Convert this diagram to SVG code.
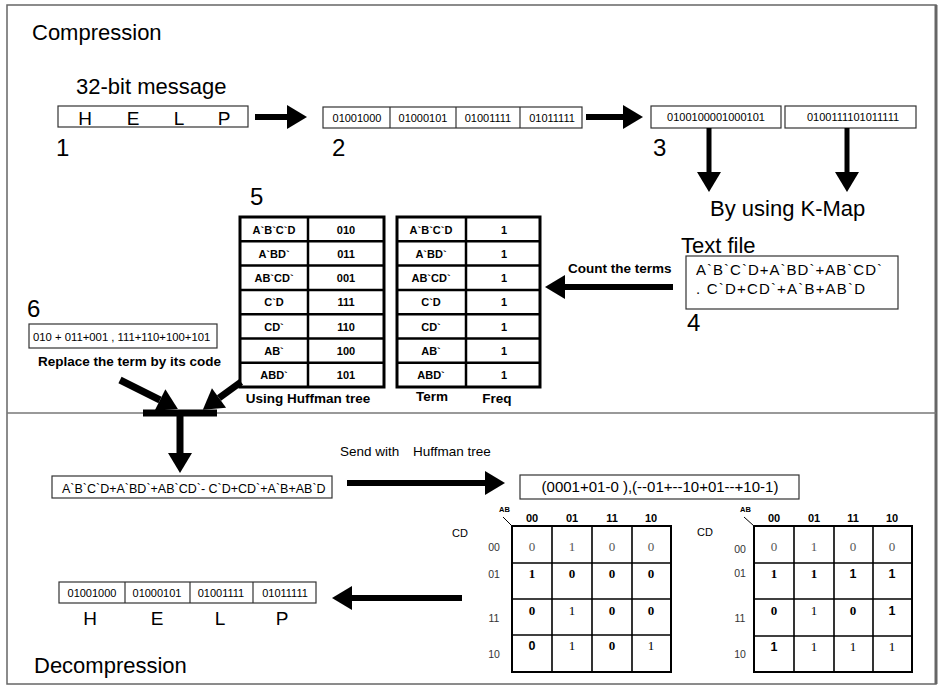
<svg xmlns="http://www.w3.org/2000/svg" width="939" height="688" viewBox="0 0 939 688">
<style>
text{font-family:"Liberation Sans",Arial,sans-serif;fill:#000}
.big{font-size:22px}
.num{font-size:24px}
.let{font-size:19px}
.bin{font-size:11px}
.bl{font-size:13.5px;font-weight:bold}
.tb{font-size:11px;font-weight:bold}
.c{text-anchor:middle}
.box{fill:#fff;stroke:#333;stroke-width:1.2}
.tbl{fill:#fff;stroke:#000;stroke-width:3}
.tl{stroke:#000;stroke-width:2.5}
.km{fill:none;stroke:#000;stroke-width:2}
.kl{stroke:#000;stroke-width:1.6}
.kh{font-size:11px;font-weight:bold}
.kr{font-size:10.5px;fill:#333}
.sv{font-family:"Liberation Serif","Times New Roman",serif;font-size:13px;font-weight:bold;text-anchor:middle}
.sg{font-family:"Liberation Serif","Times New Roman",serif;font-size:13px;fill:#555;text-anchor:middle}
.sn{font-family:"Liberation Serif","Times New Roman",serif;font-size:13px;text-anchor:middle}
.ss{font-size:12.5px;font-weight:bold;text-anchor:middle}
.arr{stroke:#000;fill:none}
</style>
<defs>
<marker id="ah" markerUnits="userSpaceOnUse" markerWidth="20" markerHeight="24" refX="0" refY="12" orient="auto" overflow="visible">
<path d="M0,0 L20,12 L0,24 z" fill="#000"/>
</marker>
</defs>

<!-- frame -->
<g id="frame">
<rect x="7" y="5" width="929" height="679" fill="#fff" stroke="#666" stroke-width="1.5"/>
<line x1="936" y1="5" x2="936" y2="684" stroke="#666" stroke-width="3"/>
<line x1="7" y1="413" x2="936" y2="413" stroke="#777" stroke-width="1.5"/>
<text class="big" x="32" y="40">Compression</text>
<text class="big" x="34" y="673">Decompression</text>
</g>

<g id="node1">
<text class="big" x="76" y="94">32-bit message</text>
<rect class="box" x="58" y="106" width="190" height="21"/>
<text class="let c" x="85" y="125">H</text>
<text class="let c" x="133" y="125">E</text>
<text class="let c" x="179" y="125">L</text>
<text class="let c" x="224" y="125">P</text>
<text class="num" x="56" y="156">1</text>
</g>

<g id="node2">
<rect class="box" x="323" y="107" width="259" height="21"/>
<line x1="390" y1="107" x2="390" y2="128" stroke="#333" stroke-width="1.2"/>
<line x1="456" y1="107" x2="456" y2="128" stroke="#333" stroke-width="1.2"/>
<line x1="520" y1="107" x2="520" y2="128" stroke="#333" stroke-width="1.2"/>
<text class="bin c" x="357" y="122">01001000</text>
<text class="bin c" x="423" y="122">01000101</text>
<text class="bin c" x="488" y="122">01001111</text>
<text class="bin c" x="552" y="122">01011111</text>
<text class="num" x="332" y="156">2</text>
</g>

<g id="node3">
<rect class="box" x="651" y="106" width="130" height="22"/>
<text class="bin c" x="716" y="121">0100100001000101</text>
<rect class="box" x="785" y="106" width="131" height="22"/>
<text class="bin c" x="853" y="121">0100111101011111</text>
<text class="num" x="653" y="156">3</text>
<text class="big" x="710" y="216">By using K-Map</text>
</g>

<g id="node4">
<text class="big" x="681" y="253">Text file</text>
<rect class="box" x="686" y="256" width="212" height="53"/>
<text x="696" y="275" font-size="15" textLength="186" lengthAdjust="spacing">A`B`C`D+A`BD`+AB`CD`</text>
<text x="696" y="294" font-size="15" textLength="169" lengthAdjust="spacing">. C`D+CD`+A`B+AB`D</text>
<text class="num" x="687" y="331">4</text>
<text class="bl" x="568" y="273">Count the terms</text>
</g>

<g id="node5">
<text class="num" x="250" y="205">5</text>
<rect class="tbl" x="240" y="217" width="144" height="170"/>
<line class="tl" x1="308" y1="217" x2="308" y2="387"/>
<line class="tl" x1="240" y1="241.3" x2="384" y2="241.3"/>
<line class="tl" x1="240" y1="265.6" x2="384" y2="265.6"/>
<line class="tl" x1="240" y1="289.9" x2="384" y2="289.9"/>
<line class="tl" x1="240" y1="314.2" x2="384" y2="314.2"/>
<line class="tl" x1="240" y1="338.5" x2="384" y2="338.5"/>
<line class="tl" x1="240" y1="362.8" x2="384" y2="362.8"/>
<text class="tb c" x="274" y="233.5">A`B`C`D</text><text class="tb c" x="346" y="233.5">010</text>
<text class="tb c" x="274" y="257.8">A`BD`</text><text class="tb c" x="346" y="257.8">011</text>
<text class="tb c" x="274" y="282.1">AB`CD`</text><text class="tb c" x="346" y="282.1">001</text>
<text class="tb c" x="274" y="306.4">C`D</text><text class="tb c" x="346" y="306.4">111</text>
<text class="tb c" x="274" y="330.7">CD`</text><text class="tb c" x="346" y="330.7">110</text>
<text class="tb c" x="274" y="355">AB`</text><text class="tb c" x="346" y="355">100</text>
<text class="tb c" x="274" y="379.3">ABD`</text><text class="tb c" x="346" y="379.3">101</text>
<text class="bl c" x="308" y="403">Using Huffman tree</text>
</g>

<g id="freqTable">
<rect class="tbl" x="397" y="217" width="143" height="170"/>
<line class="tl" x1="466" y1="217" x2="466" y2="387"/>
<line class="tl" x1="397" y1="241.3" x2="540" y2="241.3"/>
<line class="tl" x1="397" y1="265.6" x2="540" y2="265.6"/>
<line class="tl" x1="397" y1="289.9" x2="540" y2="289.9"/>
<line class="tl" x1="397" y1="314.2" x2="540" y2="314.2"/>
<line class="tl" x1="397" y1="338.5" x2="540" y2="338.5"/>
<line class="tl" x1="397" y1="362.8" x2="540" y2="362.8"/>
<text class="tb c" x="431" y="233.5">A`B`C`D</text><text class="tb c" x="504" y="233.5">1</text>
<text class="tb c" x="431" y="257.8">A`BD`</text><text class="tb c" x="504" y="257.8">1</text>
<text class="tb c" x="431" y="282.1">AB`CD`</text><text class="tb c" x="504" y="282.1">1</text>
<text class="tb c" x="431" y="306.4">C`D</text><text class="tb c" x="504" y="306.4">1</text>
<text class="tb c" x="431" y="330.7">CD`</text><text class="tb c" x="504" y="330.7">1</text>
<text class="tb c" x="431" y="355">AB`</text><text class="tb c" x="504" y="355">1</text>
<text class="tb c" x="431" y="379.3">ABD`</text><text class="tb c" x="504" y="379.3">1</text>
<text class="bl c" x="432" y="401">Term</text>
<text class="bl c" x="497" y="403">Freq</text>
</g>

<g id="node6">
<text class="num" x="27" y="317">6</text>
<rect class="box" x="29" y="324" width="188" height="24"/>
<text x="33" y="341" font-size="11.3">010 + 011+001 , 111+110+100+101</text>
<text class="bl" x="38" y="366">Replace the term by its code</text>
</g>

<g id="nodeExpr">
<rect class="box" x="52" y="476" width="280" height="22"/>
<text x="62" y="493" font-size="12.5">A`B`C`D+A`BD`+AB`CD`- C`D+CD`+A`B+AB`D</text>
</g>

<g id="nodeSend">
<text x="340" y="456" font-size="13.5">Send with<tspan x="413">Huffman tree</tspan></text>
<rect class="box" x="520" y="475" width="279" height="24"/>
<text class="c" x="660" y="492" font-size="15">(0001+01-0 ),(--01+--10+01--+10-1)</text>
</g>

<g id="kmap1">
<text x="452" y="537" font-size="11">CD</text>
<text x="499" y="512" font-size="7.5" font-weight="bold">AB</text>
<line x1="503" y1="517" x2="512" y2="526" stroke="#000" stroke-width="1"/>
<text class="kh c" x="532" y="522">00</text>
<text class="kh c" x="572" y="522">01</text>
<text class="kh c" x="612" y="522">11</text>
<text class="kh c" x="651" y="522">10</text>
<text class="kr c" x="494" y="551">00</text>
<text class="kr c" x="494" y="578">01</text>
<text class="kr c" x="494" y="622">11</text>
<text class="kr c" x="494" y="658">10</text>
<rect class="km" x="512" y="526" width="159" height="146"/>
<line class="kl" x1="552" y1="526" x2="552" y2="672"/>
<line class="kl" x1="592" y1="526" x2="592" y2="672"/>
<line class="kl" x1="632" y1="526" x2="632" y2="672"/>
<line class="kl" x1="512" y1="563" x2="671" y2="563"/>
<line class="kl" x1="512" y1="599" x2="671" y2="599"/>
<line class="kl" x1="512" y1="635" x2="671" y2="635" stroke-width="2.2"/>
<text class="sg" x="532" y="551">0</text><text class="sg" x="572" y="551">1</text><text class="sg" x="612" y="551">0</text><text class="sg" x="651" y="551">0</text>
<text class="sv" x="532" y="578">1</text><text class="sv" x="572" y="578">0</text><text class="sv" x="612" y="578">0</text><text class="sv" x="651" y="578">0</text>
<text class="sv" x="532" y="615">0</text><text class="sn" x="572" y="615">1</text><text class="sv" x="612" y="615">0</text><text class="sv" x="651" y="615">0</text>
<text class="ss" x="532" y="650">0</text><text class="sn" x="572" y="650">1</text><text class="sv" x="612" y="650">0</text><text class="sn" x="651" y="650">1</text>
</g>

<g id="kmap2">
<text x="697" y="536" font-size="11">CD</text>
<text x="740" y="512" font-size="7.5" font-weight="bold">AB</text>
<line x1="744" y1="517" x2="754" y2="526" stroke="#000" stroke-width="1"/>
<text class="kh c" x="774" y="522">00</text>
<text class="kh c" x="814" y="522">01</text>
<text class="kh c" x="853" y="522">11</text>
<text class="kh c" x="892" y="522">10</text>
<text class="kr c" x="740" y="553">00</text>
<text class="kr c" x="740" y="577">01</text>
<text class="kr c" x="740" y="622">11</text>
<text class="kr c" x="740" y="658">10</text>
<rect class="km" x="754" y="526" width="158" height="146"/>
<line class="kl" x1="794" y1="526" x2="794" y2="672"/>
<line class="kl" x1="834" y1="526" x2="834" y2="672"/>
<line class="kl" x1="873" y1="526" x2="873" y2="672"/>
<line class="kl" x1="754" y1="563" x2="912" y2="563"/>
<line class="kl" x1="754" y1="599" x2="912" y2="599"/>
<line class="kl" x1="754" y1="636" x2="912" y2="636" stroke-width="2.2"/>
<text class="sg" x="774" y="551">0</text><text class="sg" x="814" y="551">1</text><text class="sg" x="853" y="551">0</text><text class="sg" x="892" y="551">0</text>
<text class="sv" x="774" y="578">1</text><text class="sv" x="814" y="578">1</text><text class="ss" x="853" y="578">1</text><text class="ss" x="892" y="578">1</text>
<text class="sv" x="774" y="615">0</text><text class="sn" x="814" y="615">1</text><text class="sv" x="853" y="615">0</text><text class="ss" x="892" y="615">1</text>
<text class="ss" x="774" y="651">1</text><text class="sn" x="814" y="651">1</text><text class="sn" x="853" y="651">1</text><text class="sn" x="892" y="651">1</text>
</g>

<g id="nodeOut">
<rect class="box" x="59" y="582" width="257" height="21"/>
<line x1="125" y1="582" x2="125" y2="603" stroke="#333" stroke-width="1.2"/>
<line x1="190" y1="582" x2="190" y2="603" stroke="#333" stroke-width="1.2"/>
<line x1="253" y1="582" x2="253" y2="603" stroke="#333" stroke-width="1.2"/>
<text class="bin c" x="92" y="597">01001000</text>
<text class="bin c" x="157" y="597">01000101</text>
<text class="bin c" x="221" y="597">01001111</text>
<text class="bin c" x="285" y="597">01011111</text>
<text class="let c" x="90" y="625">H</text>
<text class="let c" x="157" y="625">E</text>
<text class="let c" x="220" y="625">L</text>
<text class="let c" x="282" y="625">P</text>
</g>

<g id="connectors">
<line class="arr" x1="255" y1="117" x2="287" y2="117" stroke-width="6" marker-end="url(#ah)"/>
<line class="arr" x1="586" y1="117" x2="623" y2="117" stroke-width="6" marker-end="url(#ah)"/>
<line class="arr" x1="709" y1="128" x2="709" y2="172" stroke-width="5" marker-end="url(#ah)"/>
<line class="arr" x1="847" y1="128" x2="847" y2="172" stroke-width="5" marker-end="url(#ah)"/>
<line class="arr" x1="673" y1="287" x2="565" y2="287" stroke-width="6" marker-end="url(#ah)"/>
<line class="arr" x1="120" y1="380" x2="160" y2="400" stroke-width="7" marker-end="url(#ah)"/>
<line class="arr" x1="241" y1="382" x2="219" y2="398" stroke-width="7" marker-end="url(#ah)"/>
<line class="arr" x1="143" y1="413" x2="217" y2="413" stroke-width="7"/>
<line class="arr" x1="180" y1="413" x2="180" y2="453" stroke-width="7" marker-end="url(#ah)"/>
<line class="arr" x1="347" y1="483" x2="485" y2="483" stroke-width="6" marker-end="url(#ah)"/>
<line class="arr" x1="462" y1="598" x2="352" y2="598" stroke-width="6" marker-end="url(#ah)"/>
</g>
</svg>
